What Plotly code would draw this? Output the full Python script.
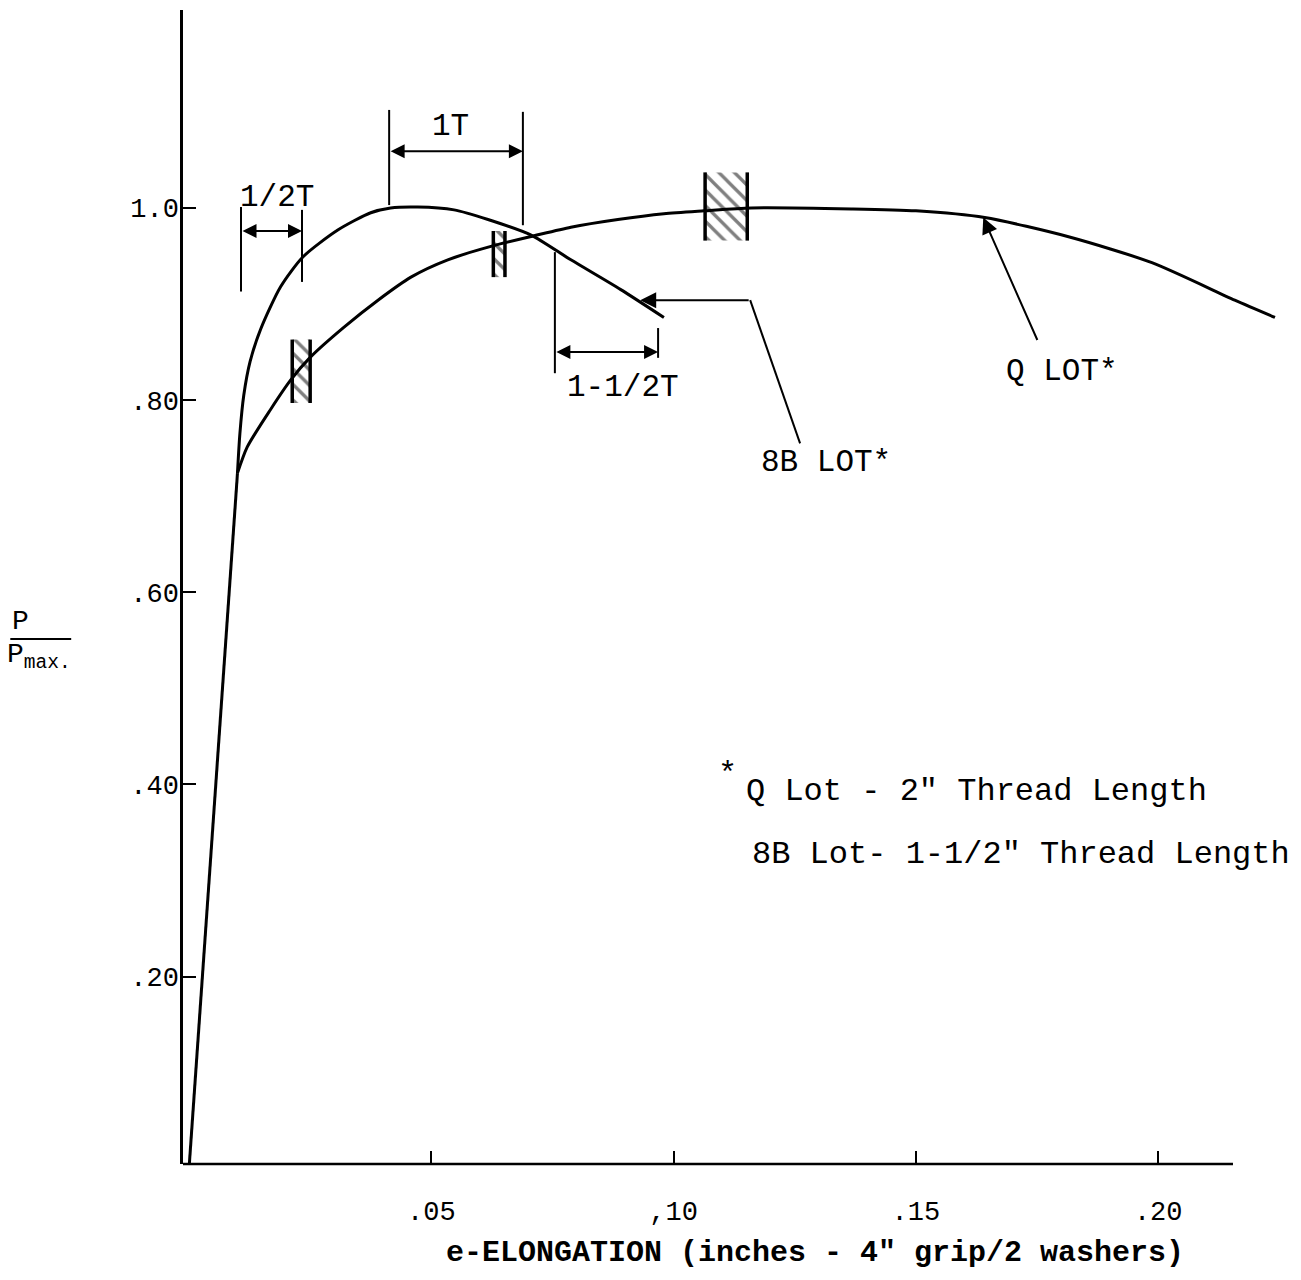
import plotly.graph_objects as go

# ---- data -----------------------------------------------------------------
# Common elastic segment (both lots)
elastic_x = [0.0, 0.0100]
elastic_y = [0.0, 0.724]

# 8B lot curve (1-1/2" thread length), from the yield knee onward
lot8b_x = [0.0100, 0.0105, 0.0113, 0.0126, 0.0148, 0.0189, 0.0235, 0.0307,
           0.0375, 0.0416, 0.0472, 0.0547, 0.0617, 0.0705, 0.0788, 0.0891, 0.0980]
lot8b_y = [0.724, 0.765, 0.805, 0.840, 0.874, 0.918, 0.949, 0.977,
           0.995, 1.000, 1.001, 0.998, 0.988, 0.972, 0.946, 0.915, 0.886]

# Q lot curve (2" thread length), from the yield knee onward
lotq_x = [0.0100, 0.0120, 0.0168, 0.0210, 0.0251, 0.0320, 0.0390, 0.0458,
          0.0534, 0.0623, 0.0712, 0.0788, 0.0885, 0.0980, 0.1063, 0.1160,
          0.1367, 0.1500, 0.1642, 0.1815, 0.1987, 0.2158, 0.2241]
lotq_y = [0.724, 0.751, 0.790, 0.821, 0.845, 0.876, 0.904, 0.928,
          0.946, 0.960, 0.971, 0.980, 0.988, 0.994, 0.997, 1.000,
          0.999, 0.997, 0.990, 0.970, 0.943, 0.904, 0.886]

# Hatched failure bands on the Q lot curve
band_x0 = [0.0213, 0.0628, 0.1065]
band_x1 = [0.0250, 0.0652, 0.1152]
band_y0 = [0.797, 0.928, 0.966]
band_y1 = [0.863, 0.976, 1.037]

# Axis ticks
x_ticks = [0.05, 0.10, 0.15, 0.20]
x_tick_text = [".05", ",10", ".15", ".20"]
y_ticks = [0.20, 0.40, 0.60, 0.80, 1.00]
y_tick_text = [".20", ".40", ".60", ".80", "1.0"]

FONT = "Liberation Mono"
INK = "black"

X_RANGE = [-0.00124, 0.2272]
Y_RANGE = [0.005, 1.206]

fig = go.Figure()

fig.add_trace(go.Scatter(x=elastic_x, y=elastic_y, mode="lines",
                         line=dict(color=INK, width=3), hoverinfo="skip"))
fig.add_trace(go.Scatter(x=lot8b_x, y=lot8b_y, mode="lines",
                         line=dict(color=INK, width=3, shape="spline", smoothing=0.7),
                         hoverinfo="skip"))
fig.add_trace(go.Scatter(x=lotq_x, y=lotq_y, mode="lines",
                         line=dict(color=INK, width=3, shape="spline", smoothing=0.7),
                         hoverinfo="skip"))

# hatched bands: patterned fill plus heavy side bars
for x0, x1, y0, y1 in zip(band_x0, band_x1, band_y0, band_y1):
    fig.add_trace(go.Scatter(
        x=[x0, x1, x1, x0, x0], y=[y0, y0, y1, y1, y0],
        mode="lines", line=dict(width=0), fill="toself",
        fillcolor="rgba(0,0,0,0)",
        fillpattern=dict(shape="\\", size=11, solidity=0.3, fgcolor=INK),
        hoverinfo="skip"))
bar_x, bar_y = [], []
for x0, x1, y0, y1 in zip(band_x0, band_x1, band_y0, band_y1):
    bar_x += [x0, x0, None, x1, x1, None]
    bar_y += [y0, y1, None, y0, y1, None]
fig.add_trace(go.Scatter(x=bar_x, y=bar_y, mode="lines",
                         line=dict(color=INK, width=3.5), hoverinfo="skip"))

shapes = []
annotations = []


def vline(x, y0, y1, w=2):
    shapes.append(dict(type="line", xref="x", yref="y", x0=x, x1=x, y0=y0, y1=y1,
                       line=dict(color=INK, width=w)))


def seg(x0, y0, x1, y1, w=2):
    shapes.append(dict(type="line", xref="x", yref="y", x0=x0, x1=x1, y0=y0, y1=y1,
                       line=dict(color=INK, width=w)))


def arrow(xt, yt, xs, ys, both=False, size=1.4, head=2):
    a = dict(x=xt, y=yt, ax=xs, ay=ys, xref="x", yref="y", axref="x", ayref="y",
             text="", showarrow=True, arrowhead=head, arrowsize=size, arrowwidth=2,
             arrowcolor=INK, standoff=0, startstandoff=0)
    if both:
        a.update(arrowside="end+start", startarrowhead=head, startarrowsize=size)
    annotations.append(a)


def label(x, y, text, size=31, xanchor="center", xref="x", yref="y"):
    annotations.append(dict(x=x, y=y, xref=xref, yref=yref, text=text,
                            showarrow=False, xanchor=xanchor, yanchor="middle",
                            font=dict(family=FONT, size=size, color=INK)))


# 1/2T dimension
vline(0.01073, 0.913, 1.001)
vline(0.02332, 0.923, 0.998)
arrow(0.02332, 0.976, 0.01073, 0.976, both=True)
label(0.0182, 1.011, "1/2T")

# 1T dimension
vline(0.0413, 1.003, 1.102)
vline(0.0689, 0.982, 1.100)
arrow(0.0689, 1.059, 0.0413, 1.059, both=True)
label(0.0539, 1.085, "1T")

# 1-1/2T dimension
vline(0.0755, 0.828, 0.954)
vline(0.0968, 0.844, 0.875)
arrow(0.0968, 0.850, 0.0755, 0.850, both=True)
label(0.0896, 0.813, "1-1/2T")

# 8B LOT leader
arrow(0.0931, 0.904, 0.1158, 0.904, size=1.6)
seg(0.1158, 0.904, 0.1261, 0.755)
label(0.1315, 0.735, "8B LOT*")

# Q LOT leader
arrow(0.1639, 0.990, 0.1752, 0.861, size=1.6)
label(0.1802, 0.830, "Q LOT*")

# footnote
label(0.1112, 0.410, "*", size=32)
label(0.1145, 0.393, "Q Lot - 2\" Thread Length", size=32, xanchor="left")
label(0.1158, 0.327, "8B Lot- 1-1/2\" Thread Length", size=32, xanchor="left")

# x-axis title
label(0.1292, -0.0771, "<b>e-ELONGATION (inches - 4\" grip/2 washers)</b>", size=30,
      yref="paper")

# y-axis title as a stacked fraction
label(-0.147, 0.47, "P", size=28, xref="paper", yref="paper")
label(-0.130, 0.44, "P<sub>max.</sub>", size=28, xref="paper", yref="paper")
shapes.append(dict(type="line", xref="paper", yref="paper",
                   x0=-0.156, x1=-0.101, y0=0.455, y1=0.455,
                   line=dict(color=INK, width=2)))

# x-axis line (stops short of the right end of the Q curve)
shapes.append(dict(type="line", xref="paper", yref="paper", x0=0, x1=0.9485,
                   y0=0, y1=0, line=dict(color=INK, width=2.5)))

fig.update_layout(
    width=1301, height=1280, autosize=False,
    margin=dict(l=183, r=11, t=10, b=116),
    paper_bgcolor="white", plot_bgcolor="white",
    showlegend=False,
    shapes=shapes, annotations=annotations,
    xaxis=dict(range=X_RANGE, showgrid=False, zeroline=False, showline=False,
               tickvals=x_ticks, ticktext=x_tick_text, ticks="inside",
               ticklen=13, tickwidth=2, tickcolor=INK, ticklabelstandoff=28,
               tickfont=dict(family=FONT, size=27, color=INK)),
    yaxis=dict(range=Y_RANGE, showgrid=False, zeroline=False, showline=True,
               linecolor=INK, linewidth=2.5,
               tickvals=y_ticks, ticktext=y_tick_text, ticks="inside",
               ticklen=13, tickwidth=2, tickcolor=INK, ticklabelstandoff=-4,
               tickfont=dict(family=FONT, size=27, color=INK)),
)

fig.write_html("out.html")
